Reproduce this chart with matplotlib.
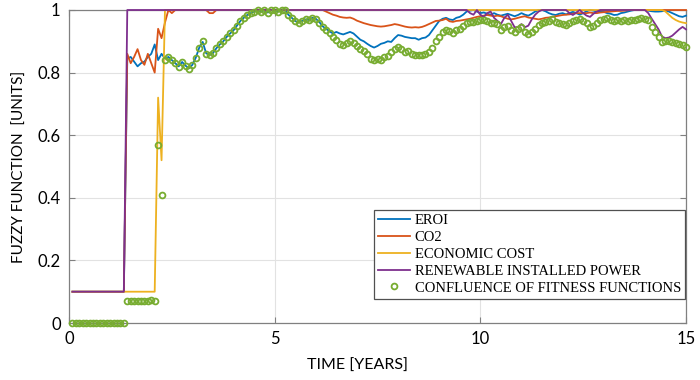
import numpy as np
import matplotlib
matplotlib.use('Agg')
from matplotlib import pyplot as plt

# monthly samples, 15 years
months = np.arange(1, 181)
years = months / 12

eroi = [0.1]*16 + [0.845, 0.85, 0.835, 0.82, 0.83, 0.835, 0.85, 0.86, 0.89, 0.84, 0.86] + [
    0.845, 0.85, 0.84, 0.83, 0.82, 0.834, 0.822, 0.814, 0.825, 0.848,
    0.88, 0.898, 0.862, 0.856, 0.862, 0.878, 0.89, 0.90, 0.914, 0.925,
    0.935, 0.95, 0.965, 0.975, 0.984, 0.99, 0.995, 1.0, 0.995, 1.0,
    0.992, 1.0, 1.0, 0.995, 1.0, 1.0, 0.985, 0.975, 0.965, 0.96,
    0.965, 0.97, 0.968, 0.975, 0.972, 0.962, 0.948, 0.94, 0.932, 0.925,
    0.93, 0.925, 0.922, 0.926, 0.93, 0.925, 0.915, 0.905, 0.90, 0.892,
    0.885, 0.88, 0.885, 0.892, 0.895, 0.90, 0.898, 0.91, 0.92, 0.918,
    0.914, 0.912, 0.91, 0.91, 0.905, 0.91, 0.912, 0.92, 0.935, 0.95,
    0.965, 0.972, 0.975, 0.97, 0.968, 0.975, 0.978, 0.985, 0.995, 0.998,
    1.0, 0.995, 0.99, 0.992, 0.988, 0.985, 0.99, 0.985, 0.982, 0.985,
    0.988, 0.984, 0.98, 0.984, 0.99, 0.985, 0.982, 0.988, 0.995, 1.0,
    1.0, 0.996, 0.99, 0.986, 0.984, 0.988, 0.99, 0.986, 0.99, 0.994,
    0.99, 0.985, 0.99, 0.996, 1.0, 0.998, 0.995, 0.996, 0.994, 0.99,
    0.988, 0.984, 0.985, 0.99, 0.992, 0.995, 0.998, 1.0, 1.0, 1.0,
    1.0, 0.998, 0.996, 0.995, 0.995, 0.996, 0.998, 0.995, 0.99, 0.985,
    0.98, 0.978, 0.982]

co2 = [0.1]*16 + [0.86, 0.83, 0.85, 0.875, 0.84, 0.825, 0.86, 0.83, 0.80, 0.94, 0.91, 0.96] \
    + [1.0, 0.99] + [1.0]*10 + [0.99, 0.99] + [1.0]*31 + [
    1.0, 0.995, 0.99, 0.985, 0.982, 0.978, 0.976, 0.975, 0.976, 0.972,
    0.966, 0.962, 0.958, 0.955, 0.952, 0.95, 0.948, 0.947, 0.948, 0.95,
    0.952, 0.955, 0.953, 0.95, 0.947, 0.945, 0.944, 0.945, 0.944, 0.946,
    0.95, 0.955, 0.96, 0.965, 0.966, 0.968, 0.972, 0.964, 0.962, 0.965,
    0.966, 0.968, 0.97, 0.972, 0.975, 0.978, 0.98, 0.982, 0.984, 0.982,
    0.98, 0.982, 0.98, 0.976, 0.972, 0.97, 0.972, 0.975, 0.978, 0.98,
    0.976, 0.974, 0.972, 0.97, 0.972, 0.975, 0.976, 0.978, 0.98, 0.982,
    0.984, 0.985, 0.986, 0.988, 0.99, 0.99, 0.99, 0.99, 0.992, 0.99,
    0.99, 0.992, 0.993, 0.994, 0.995, 0.996, 0.997, 0.997, 0.998, 0.999] + [1.0]*17

econ_cost = [0.1]*25 + [0.72, 0.52] + [1.0]*146 + [0.995, 0.985, 0.975, 0.968, 0.963, 0.96, 0.958]

renewable = [0.1]*16 + [1.0]*100 + [
    0.99, 0.985, 1.0, 0.985, 0.978, 0.99, 0.995, 0.975, 0.965, 0.955,
    0.975, 0.985, 0.965, 0.945, 0.945, 0.955, 0.945, 0.95, 0.97, 0.985,
    0.995, 1.0, 1.0, 1.0, 1.0, 1.0, 1.0, 1.0, 1.0, 0.99,
    0.984, 0.992, 1.0, 0.99, 0.982, 0.978, 0.988, 0.995, 1.0, 1.0] + [1.0]*12 + [
    0.99, 0.972, 0.955, 0.938, 0.915, 0.91, 0.912, 0.918, 0.928, 0.938, 0.946, 0.938]

confluence = [0.0]*16 + [0.07]*7 + [0.075, 0.07] + [0.57, 0.41,
    0.84, 0.85, 0.84, 0.83, 0.818, 0.834, 0.822, 0.812, 0.825, 0.848,
    0.88, 0.90, 0.86, 0.855, 0.862, 0.878, 0.89, 0.90, 0.914, 0.925,
    0.935, 0.95, 0.965, 0.975, 0.984, 0.99, 0.995, 1.0, 0.995, 1.0,
    0.992, 1.0, 1.0, 0.995, 1.0, 1.0, 0.985, 0.975, 0.965, 0.96,
    0.965, 0.97, 0.968, 0.975, 0.972, 0.96, 0.945, 0.935, 0.925, 0.915,
    0.905, 0.89, 0.888, 0.895, 0.90, 0.895, 0.885, 0.875, 0.868, 0.86,
    0.845, 0.84, 0.845, 0.84, 0.85, 0.852, 0.865, 0.875, 0.882, 0.875,
    0.866, 0.87, 0.86, 0.856, 0.855, 0.856, 0.86, 0.866, 0.88, 0.90,
    0.914, 0.93, 0.936, 0.932, 0.928, 0.935, 0.94, 0.95, 0.958, 0.962,
    0.962, 0.965, 0.968, 0.968, 0.966, 0.96, 0.96, 0.955, 0.936, 0.945,
    0.95, 0.935, 0.93, 0.94, 0.946, 0.93, 0.922, 0.93, 0.94, 0.952,
    0.958, 0.962, 0.966, 0.97, 0.962, 0.958, 0.955, 0.952, 0.96, 0.965,
    0.968, 0.972, 0.965, 0.958, 0.945, 0.95, 0.96, 0.968, 0.97, 0.974,
    0.968, 0.965, 0.968, 0.966, 0.968, 0.966, 0.968, 0.968, 0.97, 0.974,
    0.97, 0.968, 0.946, 0.93, 0.915, 0.898, 0.902, 0.90, 0.898, 0.896,
    0.892, 0.888, 0.882]

fig = plt.figure(figsize=(7, 3.8), dpi=100)
ax = fig.add_axes([69/700, 57/380, 617/700, 313/380])

kw = dict(lw=1.3, clip_on=False, zorder=3)
ax.plot(years, eroi, color='#0072BD', label='EROI', **kw)
ax.plot(years, co2, color='#D95319', label='CO2', **kw)
ax.plot(years, econ_cost, color='#EDB120', label='ECONOMIC COST', **kw)
ax.plot(years, renewable, color='#7E2F8E', label='RENEWABLE INSTALLED POWER', **kw)
ax.plot(years, confluence, 'o', color='#77AC30', mfc='none', ms=4.2, mew=1.3,
        clip_on=False, zorder=4, label='CONFLUENCE OF FITNESS FUNCTIONS')

ax.set_xlim(0, 15)
ax.set_ylim(0, 1)
ax.set_xticks([0, 5, 10, 15])
ax.set_yticks([0, 0.2, 0.4, 0.6, 0.8, 1])
ax.set_yticklabels(['0', '0.2', '0.4', '0.6', '0.8', '1'])
ax.grid(color='#e2e2e2', lw=0.8)
ax.set_axisbelow(True)
for s in ax.spines.values():
    s.set_color('#808080')
    s.set_linewidth(0.9)
ax.tick_params(direction='in', top=True, right=True, color='#808080', length=4,
               labelsize=12, pad=6)
for lab in ax.get_xticklabels() + ax.get_yticklabels():
    lab.set_family('Lato')

ax.set_xlabel('TIME [YEARS]', family='Lato', fontsize=11.5)
ax.xaxis.label.set_va('center')
ax.xaxis.set_label_coords(0.467, -0.137)
ax.set_ylabel('FUZZY FUNCTION  [UNITS]', family='Lato', fontsize=11, labelpad=8)

leg = ax.legend(loc='lower right', bbox_to_anchor=(0.999, 0.077), borderaxespad=0,
                prop={'family': 'Liberation Serif', 'size': 10.5}, fancybox=False,
                edgecolor='#505050', framealpha=1, handlelength=2.2, handletextpad=0.3,
                labelspacing=0.25, borderpad=0.3, numpoints=1)
leg.get_frame().set_linewidth(0.9)
leg.set_zorder(5)

plt.savefig('out.png')
